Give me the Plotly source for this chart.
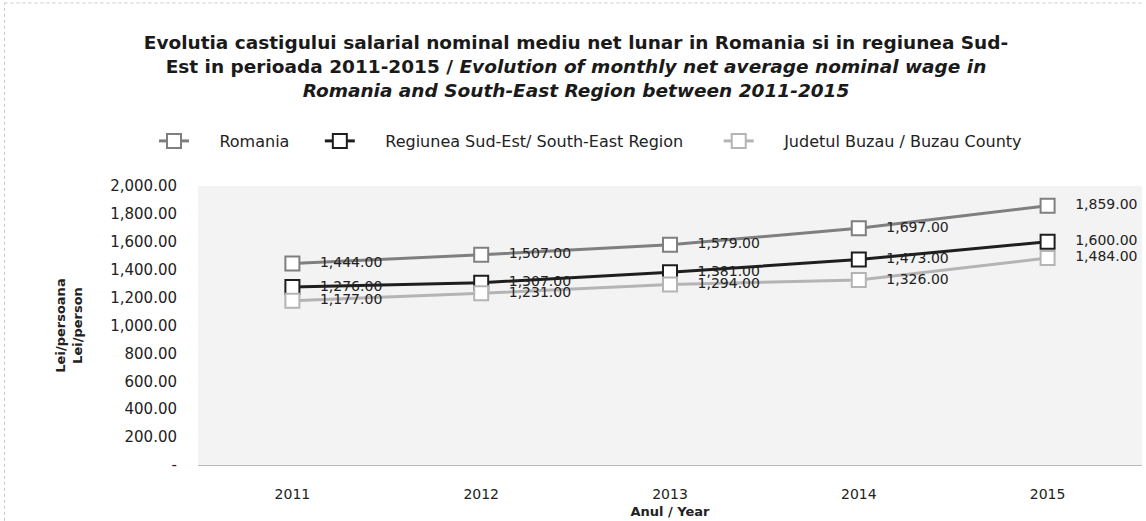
import plotly.graph_objects as go

years = ["2011", "2012", "2013", "2014", "2015"]
romania = [1444, 1507, 1579, 1697, 1859]
sud_est = [1276, 1307, 1381, 1473, 1600]
buzau = [1177, 1231, 1294, 1326, 1484]

series_names = ["Romania", "Regiunea Sud-Est/ South-East Region", "Judetul Buzau / Buzau County"]
series_values = [romania, sud_est, buzau]
series_colors = ["#7f7f7f", "#1e1e1e", "#b4b4b4"]

y_tickvals = [0, 200, 400, 600, 800, 1000, 1200, 1400, 1600, 1800, 2000]
y_ticktext = ["-"] + [f"{v:,.2f}" for v in y_tickvals[1:]]

FONT = "DejaVu Sans, Liberation Sans, Arial"
legend_lead = "     "
legend_trail = ["     ", "      ", ""]


def labels(vals):
    return ["    " + f"{v:,.2f}" for v in vals]


fig = go.Figure()
for name, pad, vals, col in zip(series_names, legend_trail, series_values, series_colors):
    fig.add_trace(go.Scatter(
        x=years, y=vals, name=legend_lead + name + pad,
        mode="lines+markers+text",
        line=dict(color=col, width=3),
        marker=dict(symbol="square", size=14, color="white",
                    line=dict(color=col, width=2)),
        text=labels(vals),
        textposition="middle right",
        textfont=dict(family=FONT, size=14, color="#222222"),
        cliponaxis=False,
    ))

fig.update_layout(
    width=1146, height=521,
    margin=dict(l=198, r=4, t=186, b=56),
    paper_bgcolor="white",
    plot_bgcolor="#f3f3f3",
    font=dict(family=FONT, size=14, color="#222222"),
    title=dict(
        text="<b>Evolutia castigului salarial nominal mediu net lunar in Romania si in regiunea Sud-</b><br>"
             "<b>Est in perioada 2011-2015 / <i>Evolution of monthly net average nominal wage in</i></b><br>"
             "<b><i>Romania and South-East Region between 2011-2015</i></b>",
        x=576 / 1146, xref="container", xanchor="center",
        y=1 - 49 / 521, yref="container", yanchor="middle",
        font=dict(family=FONT, size=18.5, color="#1a1a1a"),
    ),
    legend=dict(
        orientation="h", xref="container", x=154 / 1146, xanchor="left",
        yref="container", y=1 - 141 / 521, yanchor="middle",
        font=dict(family=FONT, size=16), tracegroupgap=0,
        bgcolor="rgba(0,0,0,0)",
    ),
    showlegend=True,
    xaxis=dict(
        type="category", range=[-0.5, 4.5],
        showgrid=False, zeroline=False,
        showline=True, linecolor="#bbbbbb", linewidth=1,
        ticks="", ticklabelstandoff=16,
        tickfont=dict(size=14),
        title=dict(text="<b>Anul / Year</b>", font=dict(size=13), standoff=6),
    ),
    yaxis=dict(
        range=[0, 2000], tickvals=y_tickvals, ticktext=y_ticktext,
        showgrid=False, zeroline=False, showline=False,
        ticks="", ticklabelstandoff=20,
        tickfont=dict(size=15),
        title=dict(text="<b>Lei/persoana<br>Lei/person</b>", font=dict(size=13), standoff=24),
    ),
    shapes=[
        dict(type="line", xref="paper", yref="paper", x0=-0.205, x1=1.0, y0=1.656, y1=1.656,
             line=dict(color="#c8c8c8", width=1, dash="dot")),
        dict(type="line", xref="paper", yref="paper", x0=-0.205, x1=-0.205, y0=-0.2, y1=1.656,
             line=dict(color="#c8c8c8", width=1, dash="dot")),
    ],
)

fig.write_html("out.html", config={"displayModeBar": False},
               post_script="document.body.style.margin='0';")
